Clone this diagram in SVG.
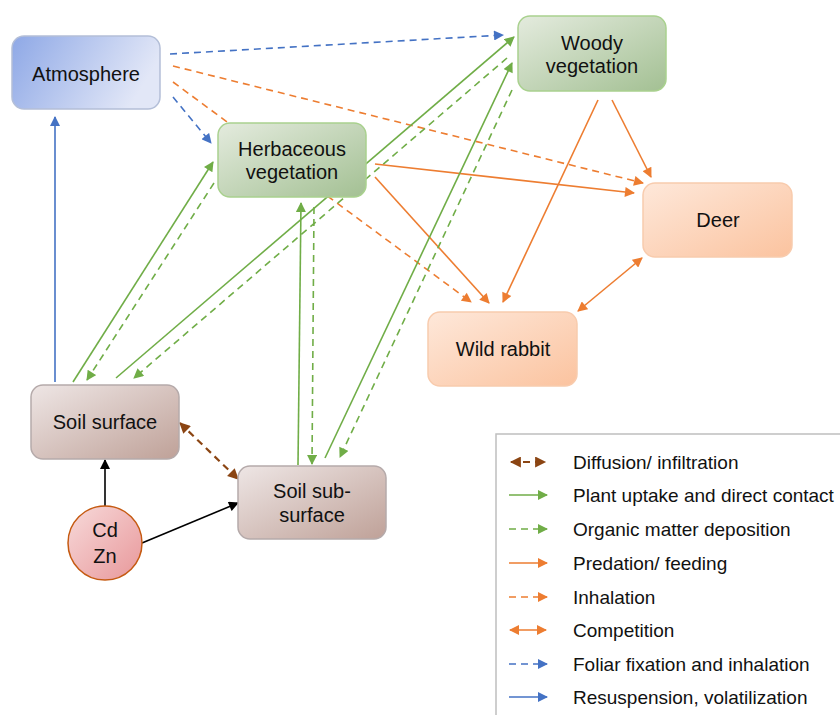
<svg xmlns="http://www.w3.org/2000/svg" width="840" height="715" viewBox="0 0 840 715">
<style>
  .lbl { font-family: "Liberation Sans", Arial, sans-serif; font-size: 20px; fill: #111; text-anchor: middle; }
  .leg { font-family: "Liberation Sans", Arial, sans-serif; font-size: 19px; fill: #111; }
  .c { fill: none; stroke-width: 1.6; }
  .g { stroke: #70ad47; }
  .o { stroke: #ed7d31; }
  .b { stroke: #4472c4; }
  .k { stroke: #000; }
  .br { stroke: #8b4513; stroke-width: 2.2; }
  .d { stroke-dasharray: 7 5; }
</style>
<defs>
  <marker id="mg" viewBox="0 0 10 10" refX="9" refY="5" markerUnits="userSpaceOnUse" markerWidth="11" markerHeight="10" orient="auto-start-reverse"><path d="M0,0 L10,5 L0,10 Z" fill="#70ad47"/></marker>
  <marker id="mo" viewBox="0 0 10 10" refX="9" refY="5" markerUnits="userSpaceOnUse" markerWidth="11" markerHeight="10" orient="auto-start-reverse"><path d="M0,0 L10,5 L0,10 Z" fill="#ed7d31"/></marker>
  <marker id="mb" viewBox="0 0 10 10" refX="9" refY="5" markerUnits="userSpaceOnUse" markerWidth="11" markerHeight="10" orient="auto-start-reverse"><path d="M0,0 L10,5 L0,10 Z" fill="#4472c4"/></marker>
  <marker id="mk" viewBox="0 0 10 10" refX="9" refY="5" markerUnits="userSpaceOnUse" markerWidth="11" markerHeight="10" orient="auto-start-reverse"><path d="M0,0 L10,5 L0,10 Z" fill="#000"/></marker>
  <marker id="mbr" viewBox="0 0 10 10" refX="9" refY="5" markerUnits="userSpaceOnUse" markerWidth="12" markerHeight="11" orient="auto-start-reverse"><path d="M0,0 L10,5 L0,10 Z" fill="#8b4513"/></marker>
  <linearGradient id="gAtm" x1="0" y1="0" x2="1" y2="0.3"><stop offset="0" stop-color="#8ea8e6"/><stop offset="1" stop-color="#e2e7f7"/></linearGradient>
  <linearGradient id="gGrn" x1="0" y1="0" x2="1" y2="1"><stop offset="0" stop-color="#e4ebde"/><stop offset="1" stop-color="#a3c093"/></linearGradient>
  <linearGradient id="gOrg" x1="0" y1="0" x2="1" y2="1"><stop offset="0" stop-color="#fee8da"/><stop offset="1" stop-color="#fbc39f"/></linearGradient>
  <linearGradient id="gSoil" x1="0" y1="0" x2="1" y2="1"><stop offset="0" stop-color="#eee6e5"/><stop offset="1" stop-color="#bfa198"/></linearGradient>
  <linearGradient id="gCd" x1="0" y1="0" x2="1" y2="1"><stop offset="0" stop-color="#f7dada"/><stop offset="1" stop-color="#e8979a"/></linearGradient>
</defs>

<g id="connectors">
  <!-- blue -->
  <line class="c b d" x1="170" y1="54" x2="503" y2="35" marker-end="url(#mb)"/>
  <line class="c b d" x1="173" y1="97" x2="211" y2="143" marker-end="url(#mb)"/>
  <line class="c b" x1="55" y1="382" x2="55" y2="117" marker-end="url(#mb)"/>
  <!-- orange dashed (inhalation) -->
  <line class="c o d" x1="173" y1="82" x2="471" y2="302" marker-end="url(#mo)"/>
  <line class="c o d" x1="173" y1="66" x2="643" y2="183" marker-end="url(#mo)"/>
  <!-- orange solid (feeding) -->
  <line class="c o" x1="375" y1="164" x2="634" y2="193" marker-end="url(#mo)"/>
  <line class="c o" x1="375" y1="177" x2="489" y2="303" marker-end="url(#mo)"/>
  <line class="c o" x1="598" y1="100" x2="503" y2="302" marker-end="url(#mo)"/>
  <line class="c o" x1="612" y1="100" x2="651" y2="177" marker-end="url(#mo)"/>
  <!-- competition -->
  <line class="c o" x1="578" y1="311" x2="642" y2="258" marker-start="url(#mo)" marker-end="url(#mo)"/>
  <!-- green -->
  <line class="c g" x1="73" y1="382" x2="213" y2="162" marker-end="url(#mg)"/>
  <line class="c g d" x1="214" y1="183" x2="87" y2="380" marker-end="url(#mg)"/>
  <line class="c g" x1="116" y1="378" x2="514" y2="37" marker-end="url(#mg)"/>
  <line class="c g d" x1="507" y1="58" x2="134" y2="378" marker-end="url(#mg)"/>
  <line class="c g" x1="298" y1="465" x2="301" y2="203" marker-end="url(#mg)"/>
  <line class="c g d" x1="314" y1="207" x2="312" y2="464" marker-end="url(#mg)"/>
  <line class="c g" x1="325" y1="458" x2="512" y2="63" marker-end="url(#mg)"/>
  <line class="c g d" x1="512" y1="90" x2="340" y2="457" marker-end="url(#mg)"/>
  <!-- black -->
  <line class="c k" x1="105" y1="506" x2="105" y2="460" marker-end="url(#mk)"/>
  <line class="c k" x1="142" y1="543" x2="238" y2="503" marker-end="url(#mk)"/>
  <!-- brown -->
  <line class="c br d" x1="180" y1="423" x2="238" y2="479" marker-start="url(#mbr)" marker-end="url(#mbr)"/>
</g>

<g id="atmosphere">
  <rect x="12" y="36" width="148" height="73" rx="12" fill="url(#gAtm)" stroke="#b4bfd8" stroke-width="1.5"/>
  <text class="lbl" x="86" y="81">Atmosphere</text>
</g>
<g id="herbaceous">
  <rect x="218" y="123" width="148" height="74" rx="12" fill="url(#gGrn)" stroke="#a9d18e" stroke-width="1.5"/>
  <text class="lbl" x="292" y="156">Herbaceous</text>
  <text class="lbl" x="292" y="179">vegetation</text>
</g>
<g id="woody">
  <rect x="518" y="16" width="148" height="75" rx="12" fill="url(#gGrn)" stroke="#a9d18e" stroke-width="1.5"/>
  <text class="lbl" x="592" y="50">Woody</text>
  <text class="lbl" x="592" y="73">vegetation</text>
</g>
<g id="deer">
  <rect x="643" y="183" width="149" height="74" rx="12" fill="url(#gOrg)" stroke="#f8cbad" stroke-width="1.5"/>
  <text class="lbl" x="718" y="227">Deer</text>
</g>
<g id="wildrabbit">
  <rect x="428" y="312" width="149" height="74" rx="12" fill="url(#gOrg)" stroke="#f8cbad" stroke-width="1.5"/>
  <text class="lbl" x="503" y="356">Wild rabbit</text>
</g>
<g id="soilsurface">
  <rect x="31" y="385" width="148" height="74" rx="12" fill="url(#gSoil)" stroke="#b5aaaa" stroke-width="1.5"/>
  <text class="lbl" x="105" y="429">Soil surface</text>
</g>
<g id="soilsubsurface">
  <rect x="238" y="466" width="148" height="73" rx="12" fill="url(#gSoil)" stroke="#b5aaaa" stroke-width="1.5"/>
  <text class="lbl" x="312" y="498">Soil sub-</text>
  <text class="lbl" x="312" y="522">surface</text>
</g>
<g id="cdzn">
  <circle cx="105" cy="543" r="37" fill="url(#gCd)" stroke="#c55a11" stroke-width="1.5"/>
  <text class="lbl" x="105" y="537">Cd</text>
  <text class="lbl" x="105" y="563">Zn</text>
</g>

<g id="legend">
  <rect x="496" y="434" width="360" height="300" fill="#fff" stroke="#bfbfbf" stroke-width="1.5"/>
  <line class="c br d" x1="511" y1="462" x2="545" y2="462" stroke-dasharray="5 5" marker-start="url(#mbr)" marker-end="url(#mbr)"/>
  <line class="c g" x1="509" y1="495" x2="547" y2="495" marker-end="url(#mg)"/>
  <line class="c g d" x1="509" y1="529" x2="547" y2="529" stroke-dasharray="6 5" marker-end="url(#mg)"/>
  <line class="c o" x1="509" y1="563" x2="547" y2="563" marker-end="url(#mo)"/>
  <line class="c o d" x1="509" y1="597" x2="547" y2="597" stroke-dasharray="6 5" marker-end="url(#mo)"/>
  <line class="c o" x1="510" y1="630" x2="546" y2="630" stroke-width="2" marker-start="url(#mo)" marker-end="url(#mo)"/>
  <line class="c b d" x1="509" y1="664" x2="547" y2="664" stroke-dasharray="6 5" marker-end="url(#mb)"/>
  <line class="c b" x1="509" y1="697" x2="547" y2="697" marker-end="url(#mb)"/>
  <text class="leg" x="573" y="469">Diffusion/ infiltration</text>
  <text class="leg" x="573" y="502">Plant uptake and direct contact</text>
  <text class="leg" x="573" y="536">Organic matter deposition</text>
  <text class="leg" x="573" y="570">Predation/ feeding</text>
  <text class="leg" x="573" y="604">Inhalation</text>
  <text class="leg" x="573" y="637">Competition</text>
  <text class="leg" x="573" y="671">Foliar fixation and inhalation</text>
  <text class="leg" x="573" y="704">Resuspension, volatilization</text>
</g>
</svg>
